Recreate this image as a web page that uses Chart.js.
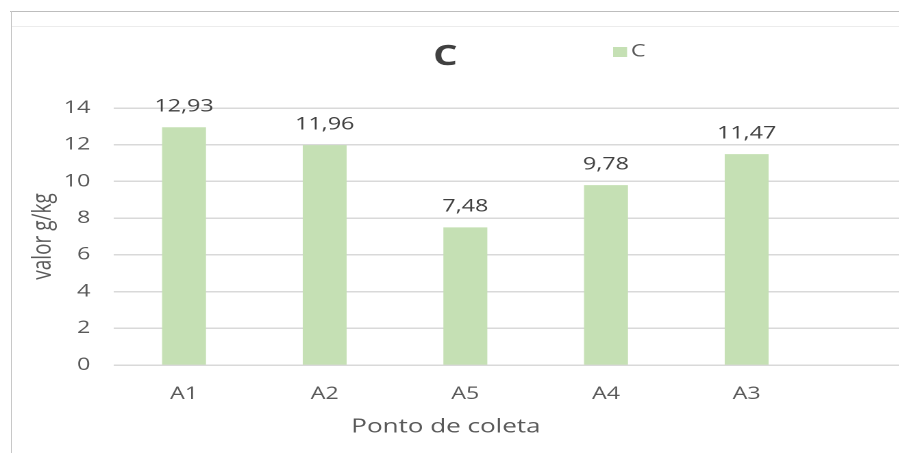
<!DOCTYPE html>
<html>
<head>
<meta charset="utf-8">
<script src="https://cdn.jsdelivr.net/npm/chart.js@4/dist/chart.umd.min.js"></script>
<style>
  html, body { margin: 0; padding: 0; background: #fff; overflow: hidden; }
  #wrap { position: absolute; left: 0; top: 0; width: 899px; height: 453px; overflow: hidden; background: #fff; }
  /* the reference is a stretched screenshot, so the chart is drawn narrow and widened */
  #box { position: absolute; left: 0; top: 0; width: 702px; height: 453px; transform: scaleX(1.37); transform-origin: 0 0; }
  .edge-top { position: absolute; left: 10px; top: 11px; width: 889px; height: 1px; background: #bdbdbd; }
  .edge-top2 { position: absolute; left: 12px; top: 26px; width: 887px; height: 1px; background: #ececec; }
  .edge-left { position: absolute; left: 11px; top: 11px; width: 1px; height: 442px; background: #c8c8c8; }
</style>
</head>
<body>
<div id="wrap">
  <div class="edge-top"></div>
  <div class="edge-top2"></div>
  <div class="edge-left"></div>
  <div id="box"><canvas id="chart"></canvas></div>
</div>
<script>
const categories = ['A1', 'A2', 'A5', 'A4', 'A3'];
const valuesC = [12.93, 11.96, 7.48, 9.78, 11.47];
const yTicks = [0, 2, 4, 6, 8, 10, 12, 14];
const seriesName = 'C';
const chartTitle = 'C';
const xTitle = 'Ponto de coleta';
const yTitle = 'valor g/kg';

const FONT = '"Open Sans", "DejaVu Sans", sans-serif';
const GREEN = '#C5E0B4';

// value labels above each bar, decimal comma like the source
const valueLabels = {
  id: 'valueLabels',
  afterDatasetsDraw(chart) {
    const ctx = chart.ctx;
    chart.data.datasets.forEach((ds, i) => {
      chart.getDatasetMeta(i).data.forEach((bar, j) => {
        const v = ds.data[j];
        if (v == null) return;
        ctx.save();
        ctx.font = '17px ' + FONT;
        ctx.fillStyle = '#404040';
        ctx.textAlign = 'center';
        ctx.textBaseline = 'middle';
        ctx.fillText(v.toFixed(2).replace('.', ','), bar.x, bar.y - 21);
        ctx.restore();
      });
    });
  }
};

// title, legend and x title sit off-centre in the reference, so they are drawn here
const header = {
  id: 'header',
  afterDraw(chart) {
    const ctx = chart.ctx;
    const ds = chart.data.datasets[0];
    ctx.save();
    ctx.textBaseline = 'middle';
    ctx.textAlign = 'center';
    ctx.fillStyle = '#404040';
    ctx.font = 'bold 28px ' + FONT;
    ctx.fillText(chartTitle, 325, 57);

    ctx.fillStyle = '#595959';
    ctx.font = '19px ' + FONT;
    ctx.fillText(xTitle, 325.5, 427);

    ctx.fillStyle = ds.backgroundColor;
    ctx.fillRect(447.5, 47, 10.2, 10);
    ctx.fillStyle = '#595959';
    ctx.font = '17px ' + FONT;
    ctx.textAlign = 'left';
    ctx.fillText(ds.label, 460.5, 51.5);
    ctx.restore();
  }
};

new Chart(document.getElementById('chart'), {
  type: 'bar',
  data: {
    // one empty slot at the end: the plot area runs past the crop
    labels: [...categories, ''],
    datasets: [{
      label: seriesName,
      data: valuesC,
      backgroundColor: GREEN,
      barThickness: 31.4
    }]
  },
  options: {
    responsive: true,
    maintainAspectRatio: false,
    devicePixelRatio: 2,
    animation: false,
    layout: { padding: { top: 108, right: 3, bottom: 50, left: 0 } },
    plugins: {
      legend: { display: false },
      title: { display: false },
      tooltip: { enabled: false }
    },
    scales: {
      x: {
        afterFit: (axis) => { axis.height = 38; },
        grid: { display: false, drawTicks: false },
        border: { display: false },
        ticks: { color: '#595959', font: { family: FONT, size: 17 }, padding: 19 }
      },
      y: {
        min: 0,
        max: 14,
        afterBuildTicks: (axis) => { axis.ticks = yTicks.map(v => ({ value: v })); },
        afterFit: (axis) => { axis.width = 83; },
        grid: { color: '#d9d9d9', lineWidth: 1.5, drawTicks: false },
        border: { display: false },
        ticks: { color: '#595959', font: { family: FONT, size: 17 }, padding: 17 },
        title: {
          display: true,
          text: yTitle,
          color: '#595959',
          font: { family: FONT, size: 19 },
          padding: { top: 20, bottom: 0 }
        }
      }
    }
  },
  plugins: [valueLabels, header]
});
</script>
</body>
</html>
